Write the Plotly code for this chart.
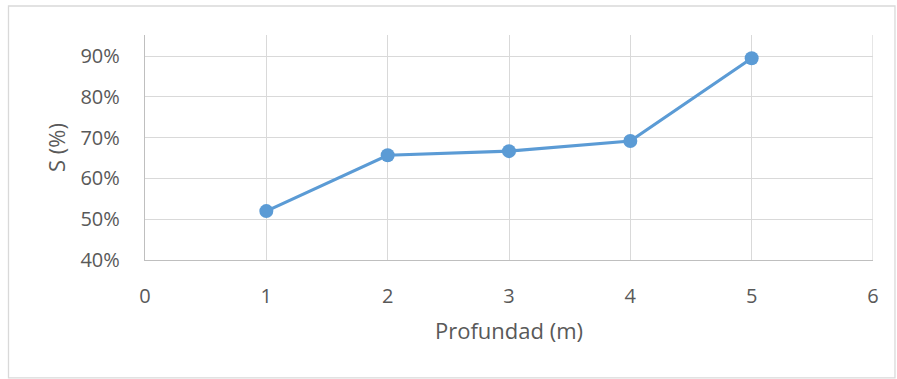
import plotly.graph_objects as go

# Depth (m) and saturation S
profundidad = [1, 2, 3, 4, 5]
saturacion = [0.520, 0.657, 0.667, 0.692, 0.895]
y_ticks = [0.4, 0.5, 0.6, 0.7, 0.8, 0.9]
y_tick_labels = ["40%", "50%", "60%", "70%", "80%", "90%"]
x_ticks = [0, 1, 2, 3, 4, 5, 6]

FONT = "Open Sans, sans-serif"
TXT = "#595959"
GRID = "#D9D9D9"

fig = go.Figure(
    go.Scatter(
        x=profundidad,
        y=saturacion,
        mode="lines+markers",
        line=dict(color="#5B9BD5", width=3.2),
        marker=dict(color="#5B9BD5", size=14),
        cliponaxis=False,
    )
)

fig.update_layout(
    width=897,
    height=379,
    margin=dict(l=145, r=24, t=35, b=119),
    paper_bgcolor="white",
    plot_bgcolor="white",
    showlegend=False,
    font=dict(family=FONT, color=TXT, size=20),
    shapes=[
        # outer chart-area border
        dict(
            type="rect", xref="paper", yref="paper",
            x0=-0.1875, x1=1.0302, y0=-0.524, y1=1.129,
            line=dict(color="#D9D9D9", width=1.3),
        )
    ],
)

fig.update_xaxes(
    range=[0, 6],
    tickvals=x_ticks,
    showgrid=True,
    gridcolor=GRID,
    gridwidth=1.3,
    zeroline=False,
    showline=True,
    linecolor="#BFBFBF",
    linewidth=1.3,
    ticks="",
    ticklabelstandoff=18,
    tickfont=dict(size=20, color=TXT),
    title=dict(text="Profundad (m)", font=dict(size=22, color=TXT), standoff=15),
)

fig.update_yaxes(
    range=[0.4, 0.952],
    tickvals=y_ticks,
    ticktext=y_tick_labels,
    showgrid=True,
    gridcolor=GRID,
    gridwidth=1.3,
    zeroline=False,
    showline=True,
    linecolor="#BFBFBF",
    linewidth=1.3,
    ticks="",
    ticklabelstandoff=20,
    tickfont=dict(size=20, color=TXT),
    title=dict(text="S (%)", font=dict(size=22, color=TXT), standoff=8),
)

# gridline at the right edge, x = 6
fig.add_vline(x=6, line=dict(color=GRID, width=1.3), layer="below")

fig.write_html("out.html")
